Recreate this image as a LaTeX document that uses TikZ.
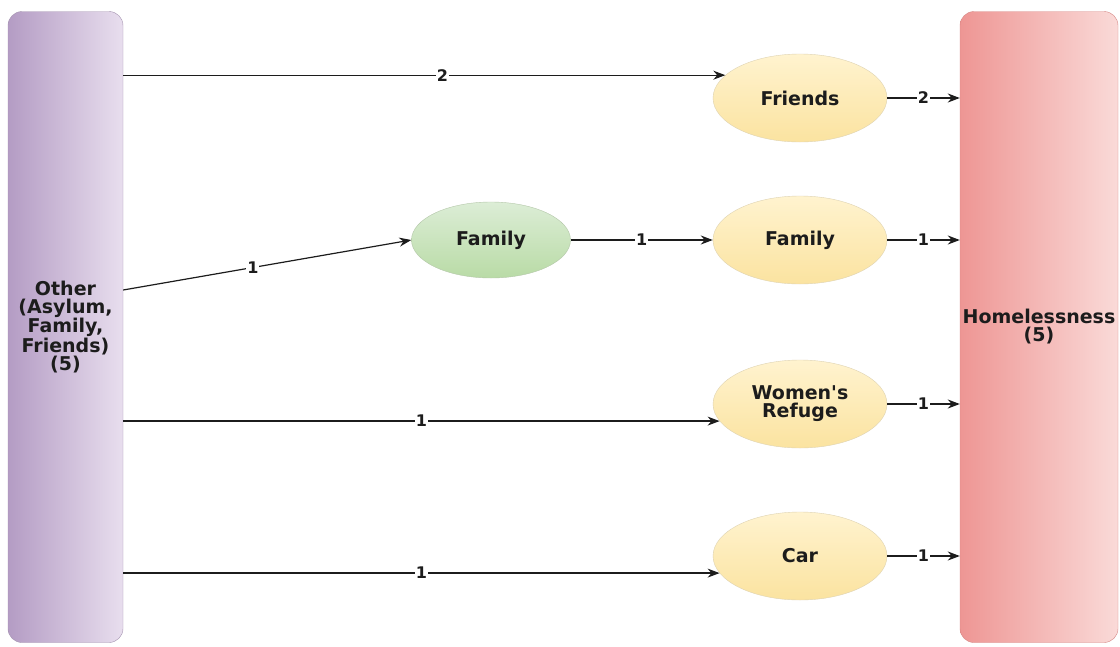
\documentclass[tikz,border=0pt]{standalone}
\usepackage{fontspec}
\setmainfont{DejaVu Sans}
\usepackage{tikz}
\usetikzlibrary{arrows.meta,shapes.geometric,positioning}

\definecolor{txt}{HTML}{1C1C1C}
\definecolor{purpleL}{HTML}{B49CC4}
\definecolor{purpleR}{HTML}{E8DEEE}
\definecolor{redL}{HTML}{EE9694}
\definecolor{redR}{HTML}{FADAD8}
\definecolor{yelT}{HTML}{FFF3CF}
\definecolor{yelB}{HTML}{FBE3A0}
\definecolor{grnT}{HTML}{DCEDD6}
\definecolor{grnB}{HTML}{B9DBA6}

\tikzset{
  bar/.style={rectangle, rounded corners=14pt, minimum width=#1, minimum height=631pt,
    inner sep=0pt, align=center, text=txt, font=\fontsize{19}{18}\selectfont\bfseries},
  yel/.style={ellipse, draw=yelB!80!black!60, top color=yelT, bottom color=yelB,
    minimum width=174pt, minimum height=88pt, inner sep=0pt, align=center, text=txt,
    font=\fontsize{19}{18}\selectfont\bfseries},
  grn/.style={ellipse, draw=grnB!80!black!70, top color=grnT, bottom color=grnB,
    minimum width=159pt, minimum height=76pt, inner sep=0pt, text=txt,
    font=\fontsize{19}{18}\selectfont\bfseries},
  lbl/.style={fill=white, inner sep=1pt, text=txt, font=\fontsize{16}{16}\selectfont\bfseries},
  flow/.style={-{Stealth[length=12pt,width=9pt]}, line width=1.2pt, txt}
}

\begin{document}
\begin{tikzpicture}[x=1pt, y=-1pt, node distance=3cm, on grid]
            \useasboundingbox (0,0) rectangle (1120,646);
            \node[bar=115pt, draw=purpleL!70!gray, left color=purpleL, right color=purpleR] (other) at (65.5,327)
              {Other\\(Asylum,\\Family,\\Friends)\\(5)};
            \node[bar=158pt, draw=redL!90!black, left color=redL, right color=redR] (home) at (1039,327)
              {Homelessness\\(5)};
            \node[yel] (fri) at (800,98) {Friends};
            \node[yel, below=142pt of fri] (fam) {Family};
            \node[grn, left=309pt of fam] (gfam) {Family};
            \node[yel, below=164pt of fam] (wom) {Women\textquotesingle s\\Refuge};
            \node[yel, below=152pt of wom] (car) {Car};
            \path[flow] (fri.163 -| other.east) edge node[lbl, pos=0.53] {2} (fri.163);
            \path[flow] ([yshift=37pt]other.east) edge node[lbl, pos=0.45] {1} (gfam.west);
            \path[flow] (gfam) edge node[lbl] {1} (fam);
            \path[flow] (wom.192 -| other.east) edge node[lbl, pos=0.5] {1} (wom.192);
            \path[flow] (car.192 -| other.east) edge node[lbl, pos=0.5] {1} (car.192);
            \path[flow] (fri.east) edge node[lbl] {2} (fri.east -| home.west);
            \path[flow] (fam.east) edge node[lbl] {1} (fam.east -| home.west);
            \path[flow] (wom.east) edge node[lbl] {1} (wom.east -| home.west);
            \path[flow] (car.east) edge node[lbl] {1} (car.east -| home.west);
        \end{tikzpicture}
\end{document}
